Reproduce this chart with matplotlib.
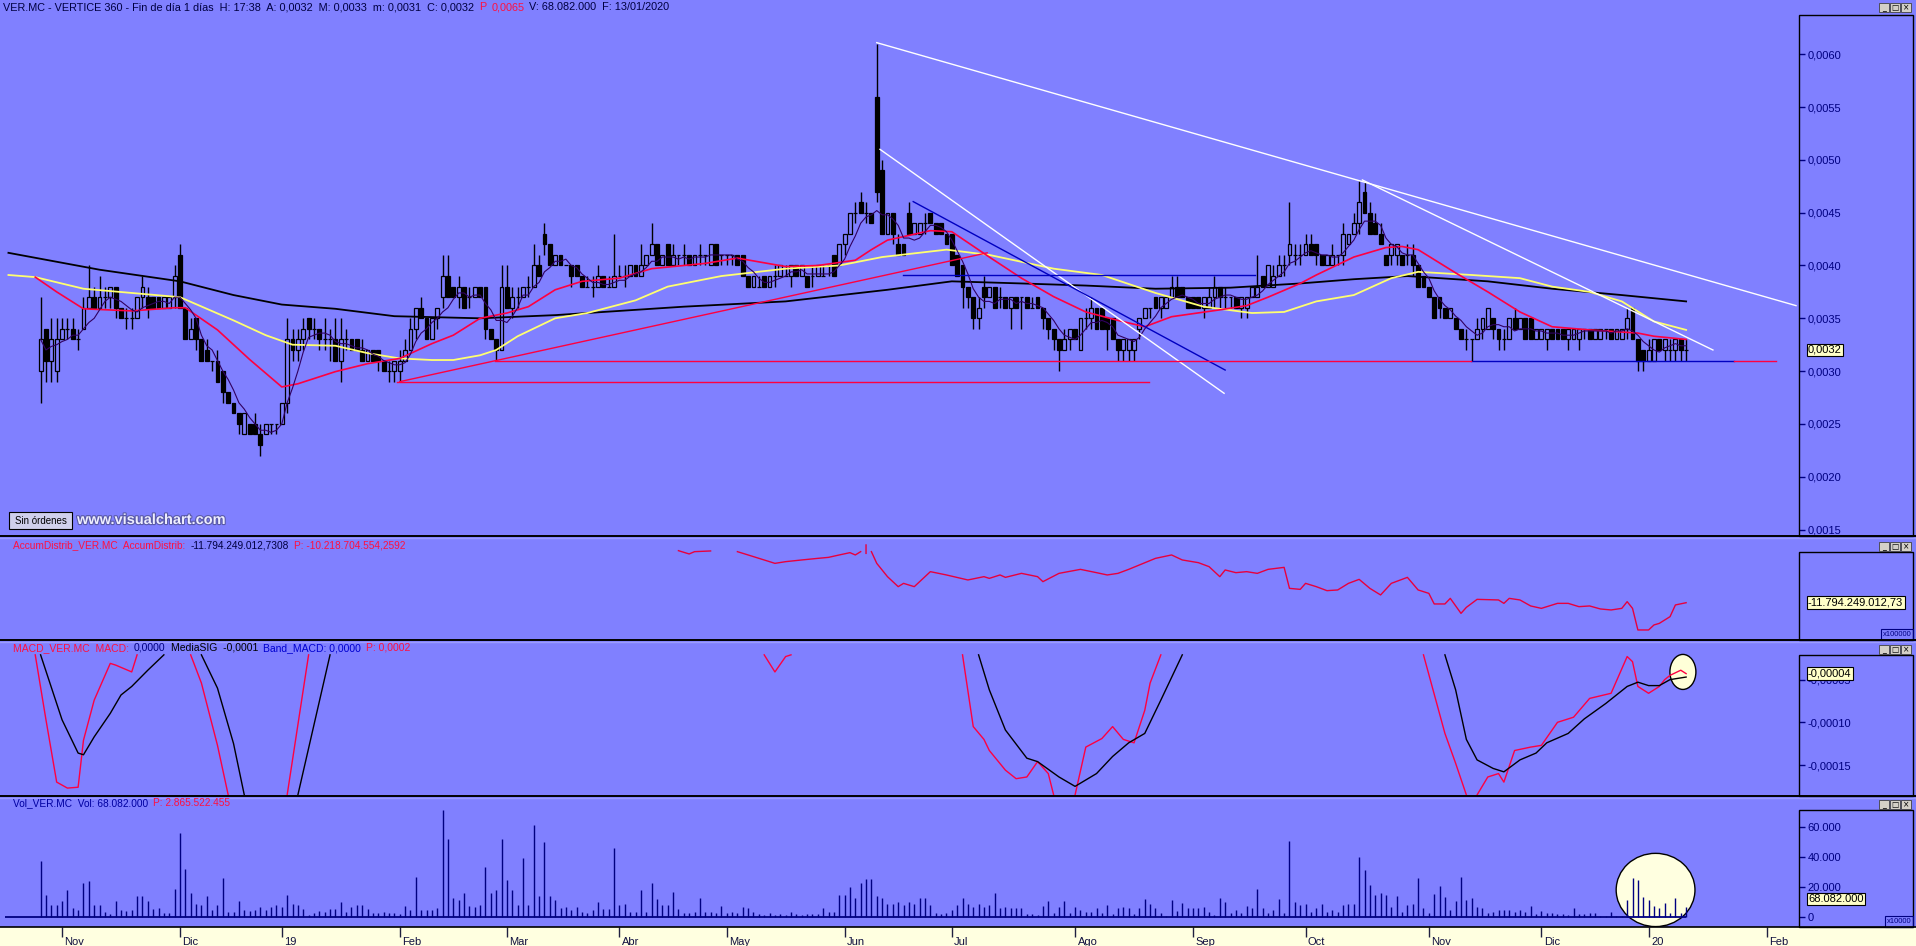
import numpy as np
import pandas as pd
import matplotlib
matplotlib.use("Agg")
import matplotlib.pyplot as plt
from matplotlib.patches import Rectangle, Ellipse
from matplotlib.lines import Line2D
import matplotlib.transforms as mtransforms
import matplotlib.patheffects as pe

plt.rcParams['font.family'] = ['Liberation Sans', 'DejaVu Sans']

# ---------------- data (prices in 0.0001 units, volume in millions) ----------------
first_day = "2018-10-26"
holidays = ["2018-12-25", "2018-12-26", "2019-01-01", "2019-04-19", "2019-04-22",
            "2019-05-01", "2019-12-25", "2019-12-26", "2020-01-01"]

opn = [30,34,31,30,33,34,34,33,34,36, 37,36,37,37,38,36,35,35,35,37, 37,37,37,36,36,37,41,36,33,35,
       33,32,31,31,30,28,27,26,24,25, 25,24,24,25,25,25,27,33,32,33, 35,34,34,33,33,33,31,33,33,33,
       32,31,32,32,31,30,30,30,31,32, 34,36,35,33,35,37,39,38,37,38, 37,37,38,38,34,33,32,38,36,37,
       37,38,38,40,43,42,40,41,40,40, 40,39,38,38,38,39,38,38,39,39, 39,40,39,40,41,42,40,42,40,41,
       41,41,40,41,41,40,42,41,41,41, 41,41,39,38,38,39,38,39,39,39, 39,40,39,39,39,39,39,40,41,40,
       42,43,45,46,45,45,56,49,43,45, 42,42,45,43,43,44,45,44,44,43, 43,41,40,38,37,35,38,37,38,37,
       37,36,37,37,37,36,37,36,35,34, 33,32,33,34,32,35,35,36,36,35, 35,33,32,32,32,34,35,36,37,36,
       36,37,38,38,37,37,37,36,36,37, 38,37,37,37,36,36,37,37,39,38, 38,39,40,41,41,41,41,42,42,41,
       40,40,41,41,42,43,44,47,45,44, 43,41,41,41,41,41,41,40,39,38, 37,37,36,35,35,34,33,33,33,34,
       34,35,34,33,33,35,34,35,35,33, 33,33,34,34,34,33,33,33,34,34, 33,33,34,34,33,33,34,36,33,32,
       31,31,33,32,32,32,33,32]
high = [37,34,35,35,35,35,35,34,37,40, 38,39,38,38,38,36,36,36,37,39, 38,37,37,37,37,40,42,36,35,35,
        33,33,31,32,30,28,27,26,26,25, 26,25,25,25,25,27,35,34,34,35, 35,35,34,35,34,35,35,34,33,33,
        33,32,32,32,31,31,31,32,33,35, 36,37,35,35,36,41,41,38,39,38, 38,38,38,38,34,33,40,40,38,38,
        38,39,42,41,44,42,41,41,40,40, 40,39,39,39,40,39,39,43,40,40, 40,40,42,41,44,42,41,42,42,41,
        42,41,41,42,41,42,42,41,41,41, 41,41,39,39,39,39,39,40,40,40, 40,40,40,39,40,40,40,40,41,42,
        43,45,46,47,46,45,61,50,45,45, 43,42,46,44,44,45,45,44,44,43, 43,41,40,38,37,37,39,38,38,38,
        37,37,37,37,37,37,37,36,35,34, 33,34,34,34,35,36,37,36,36,35, 35,33,33,33,33,35,36,36,37,37,
        37,39,39,38,37,37,37,37,38,39, 38,38,37,37,37,37,38,41,39,40, 40,41,41,46,42,42,43,43,42,41,
        41,42,41,44,43,45,48,48,46,45, 44,41,42,42,41,42,42,40,39,38, 37,37,36,36,35,34,34,33,35,35,
        36,35,34,34,35,36,35,35,35,34, 34,34,34,34,34,34,34,34,34,34, 34,34,34,34,34,34,36,36,33,32,
        33,33,33,33,33,33,33,33]
low = [27,29,29,29,33,33,33,32,34,36, 36,36,36,36,35,35,34,34,35,36, 35,36,36,36,36,36,36,33,33,32,
       31,31,30,29,27,27,26,24,24,24, 24,22,24,24,24,25,26,31,31,32, 33,33,32,32,31,31,29,32,32,32,
       31,31,31,30,30,29,29,29,31,32, 33,35,33,33,34,36,37,37,36,36, 36,37,37,33,33,31,32,36,35,36,
       37,37,38,39,41,40,40,40,40,38, 39,38,38,37,38,38,38,38,39,38, 39,39,39,40,41,40,40,40,40,40,
       40,40,40,40,40,40,40,40,40,40, 40,39,38,38,38,38,38,38,39,39, 38,39,39,38,38,39,39,39,39,40,
       41,43,44,45,44,44,46,43,43,42, 41,41,43,43,43,43,44,43,43,42, 40,39,36,36,34,34,36,37,36,36,
       36,34,36,34,36,36,36,34,33,32, 30,32,32,33,32,34,34,34,34,32, 33,31,31,31,31,33,35,35,36,35,
       36,37,37,37,36,36,36,35,36,36, 36,36,36,36,35,35,37,37,38,38, 38,39,39,40,40,40,41,41,40,40,
       40,40,40,40,42,43,43,45,43,43, 42,40,40,40,40,40,39,38,38,37, 35,35,35,35,34,33,32,31,33,33,
       34,33,32,32,33,34,34,33,33,33, 33,32,33,33,33,32,33,32,33,33, 33,33,33,33,33,33,33,33,30,30,
       31,31,32,31,31,31,31,31]
close = [33,31,33,33,34,34,33,33,36,37, 36,37,37,38,36,35,35,35,37,38, 36,36,36,37,37,39,36,33,34,33,
         31,31,31,29,28,27,26,25,26,24, 24,23,25,25,25,27,33,32,33,34, 34,34,33,33,33,31,33,33,32,32,
         31,32,31,31,30,30,31,31,32,34, 36,35,33,35,36,39,37,37,38,36, 37,38,37,34,33,32,38,36,37,37,
         38,38,40,39,42,40,41,40,40,39, 39,38,38,38,39,38,38,39,39,39, 40,39,40,41,42,40,41,40,41,41,
         41,40,41,41,41,42,40,41,41,41, 40,39,38,39,38,38,39,39,40,39, 40,39,40,38,39,40,39,40,39,42,
         43,45,45,45,45,44,47,43,45,43, 41,41,43,44,44,44,44,43,43,42, 40,39,38,37,35,36,37,38,36,37,
         36,37,36,37,36,36,36,35,34,33, 32,33,34,33,35,35,36,34,34,34, 33,32,33,33,33,35,36,36,36,37,
         37,38,37,37,36,36,36,37,37,38, 37,37,37,36,37,37,38,38,38,40, 39,40,40,42,41,41,42,41,41,40,
         41,41,41,43,43,44,46,45,43,43, 42,40,42,42,40,41,40,38,38,37, 35,36,35,36,34,33,33,33,34,35,
         36,34,33,33,35,34,35,33,33,34, 34,34,33,33,33,34,34,34,34,33, 34,34,34,33,34,34,35,33,31,31,
         32,33,32,33,32,33,32,32]
volume_m = [370,150,80,80,110,180,60,50,230,240, 80,80,35,20,110,50,45,50,140,140,
            110,55,60,27,30,185,560,320,160,90, 80,140,50,80,260,35,35,110,50,45,
            50,65,50,65,80,70,150,90,80,55, 15,27,45,35,55,55,100,35,70,80,
            80,55,30,27,35,30,30,20,75,50, 265,50,50,50,60,710,520,126,115,160,
            75,70,80,335,160,180,520,250,180,80, 390,80,610,140,500,140,115,60,65,50,
            65,35,27,50,100,55,55,460,80,90, 35,35,180,35,225,120,80,80,170,55,
            27,27,35,126,35,35,30,75,30,35, 27,70,60,35,20,15,30,15,20,15,
            35,20,15,20,20,20,60,35,35,150, 150,200,130,227,256,256,140,126,90,90,
            100,80,100,90,126,126,80,30,20,30, 50,80,130,90,70,90,70,80,160,60,
            70,60,60,60,20,20,15,75,108,27, 70,108,27,70,50,35,35,60,27,80,
            20,60,70,60,20,60,120,90,60,27, 10,113,40,95,60,60,60,65,35,15,
            126,100,30,50,30,75,60,185,60,27, 50,120,30,502,100,80,90,35,60,85,
            35,50,35,80,85,90,402,310,215,150, 164,150,70,140,35,80,90,260,60,27,
            154,207,137,50,110,270,115,130,65,60, 27,35,50,50,50,35,50,35,75,20,
            40,30,27,20,20,15,60,20,20,30, 30,10,10,35,10,10,115,263,247,137,
            115,75,60,95,27,126,27,68.082]

# moving averages (trading-day index, price in 0.0001)
ma_black_idx = [-6, 11, 26, 36, 45, 55, 66, 82, 96, 120, 139, 158, 170, 183, 195, 208, 222, 235, 245, 255, 270, 282, 295, 307]
ma_black_val = [41.2, 39.6, 38.5, 37.2, 36.3, 35.9, 35.2, 35.0, 35.3, 36.1, 36.6, 37.7, 38.5, 38.3, 38.1, 37.8, 37.9, 38.3, 38.7, 39.0, 38.5, 37.8, 37.2, 36.6]
ma_yellow_idx = [-6, -1, 8, 17, 26, 31, 36, 42, 47, 55, 61, 67, 73, 77, 82, 85, 89, 96, 102, 111, 117, 127, 139, 149, 157, 169, 177,
                 189, 198, 208, 217, 226, 232, 238, 245, 252, 257, 267, 276, 282, 289, 295, 301, 307]
ma_yellow_val = [39.1, 38.9, 37.8, 37.4, 37.0, 35.9, 34.8, 33.4, 32.5, 32.4, 31.7, 31.2, 31.05, 31.05, 31.5, 32.0, 33.3, 35.0, 35.5, 36.7,
                 38.0, 39.0, 39.7, 40.0, 40.8, 41.5, 41.0, 39.7, 39.1, 37.4, 36.1, 35.5, 35.6, 36.6, 37.2, 38.8, 39.4, 39.1, 38.8, 38.0,
                 37.5, 36.6, 34.7, 33.9]
ma_red_idx = [-1, 3, 8, 17, 25, 27, 33, 39, 45, 48, 55, 61, 67, 73, 77, 82, 87, 91, 96, 101, 108, 114, 124, 130, 139, 145, 152, 155,
              158, 166, 170, 177, 183, 189, 195, 201, 206, 211, 220, 225, 229, 235, 238, 245, 251, 254, 257, 264, 270, 276, 282, 289,
              295, 298, 301, 307]
ma_red_val = [38.9, 37.5, 35.9, 35.7, 36.0, 36.0, 33.9, 31.1, 28.5, 28.8, 29.95, 30.7, 31.2, 32.6, 33.4, 35.0, 35.5, 36.1, 37.7, 38.5,
              38.8, 39.7, 40.2, 40.7, 39.9, 40.0, 40.5, 41.5, 42.4, 43.3, 43.2, 40.8, 38.8, 37.05, 35.6, 34.8, 34.2, 35.15, 35.8, 36.2,
              37.0, 38.3, 39.1, 40.8, 41.7, 41.8, 41.5, 39.3, 37.5, 35.6, 34.2, 33.9, 33.7, 33.6, 33.3, 33.0]

# drawn trend lines: (start idx, start price, end idx, end price)
white_lines = [(156.0, 61.1, 327.5, 36.2), (156.6, 51.0, 220.8, 27.9), (246.6, 48.1, 312.0, 32.0)]
blue_lines = [(162.8, 46.05, 221.0, 30.1), (160.9, 39.1, 226.6, 39.1), (266.9, 31.0, 315.9, 31.0)]
red_lines = [(67.0, 29.0, 176.6, 41.2), (84.8, 31.0, 266.9, 31.0), (315.9, 31.0, 323.7, 31.0), (66.5, 29.0, 206.8, 29.0)]

nan = np.nan
# AccumDistrib (billions)
acc_idx = [119, 121, 122, 125, nan, 130, 132, 136, 137, 139, 142, 145, 147, 149, 151, 152, 153, nan, 154, 154, nan,
           155, 156, 158, 160, 161, 163, 164, 166, 169, 173, 176, 177, 179, 180, 183, 186, 187, 190, 194, 197, 199, 201, 203,
           208, 211, 213, 216, 218, 220, 221, 223, 225, 227, 229, 232, 233, 235, 236, 238, 240, 242, 244, 246, 248, 250, 252,
           255, 257, 259, 260, 262, 263, 265, 266, 268, 272, 273, 274, 276, 278, 280, 283, 285, 287, 289, 291, 293, 295, 296,
           297, 298, 300, 301, 302, 304, 305, 307]
acc_val = [-6.59, -6.92, -6.69, -6.62, nan, -6.69, -7.02, -7.69, -7.86, -7.69, -7.52, -7.36, -7.26, -7.02, -6.79, -7.02, -6.69,
           nan, -6.02, -6.86, nan,
           -6.69, -7.86, -9.19, -10.19, -9.86, -10.19, -9.69, -8.69, -9.02, -9.52, -9.19, -9.36, -9.02, -9.26, -8.86, -9.19, -9.69,
           -8.86, -8.46, -8.79, -9.02, -8.86, -8.46, -7.36, -7.02, -7.52, -7.79, -8.19, -9.19, -8.52, -8.79, -8.69, -8.86, -8.46,
           -8.26, -10.36, -10.46, -9.86, -10.19, -10.59, -10.52, -9.86, -9.46, -10.36, -11.02, -9.86, -9.26, -10.52, -10.86, -11.92,
           -11.92, -11.36, -12.86, -12.26, -11.46, -11.52, -11.86, -11.36, -11.52, -12.12, -12.36, -11.86, -11.86, -12.19, -12.12,
           -12.42, -12.52, -12.36, -11.69, -12.36, -14.52, -14.52, -14.02, -13.86, -13.19, -12.02, -11.794]

# MACD (1e-5 units), only the part inside the visible band
macd_idx = [-1, 1, 3, 5, 7, 8, 10, 13, 14, 17, 18, nan, 28, 30, 33, 35, nan, 46, 50, nan, 135, 137, 139, 140, nan,
            172, 174, 176, 177, 180, 182, 184, 186, 188, 189, nan, 193, 195, 198, 200, 202, 204, 206, 207, 209, nan,
            258, 262, 264, 266, nan, 268, 270, 272, 273, 275, 278, 280, 283, 286, 289, 293, 296, 297, 298, 300, 302, 303,
            304, 306, 307]
macd_val = [-2.1, -9.7, -17.0, -17.7, -17.6, -12.1, -7.4, -3.1, -3.3, -4.1, -2.1, nan, -2.1, -5.4, -12.7, -18.5, nan,
            -18.5, -2.1, nan, -2.1, -4.1, -2.3, -2.1, nan,
            -2.1, -10.5, -12.0, -13.3, -15.6, -16.6, -16.4, -14.6, -16.0, -18.5, nan,
            -18.5, -12.9, -11.9, -10.5, -12.0, -12.4, -8.6, -5.4, -2.1, nan,
            -2.1, -11.3, -14.8, -18.5, nan,
            -18.5, -16.4, -16.0, -17.0, -13.3, -12.9, -12.7, -10.0, -9.4, -7.2, -6.6, -2.3, -2.9, -5.8, -6.6, -5.8, -5.0,
            -4.5, -3.9, -4.3]
sig_idx = [0, 4, 7, 8, 10, 13, 15, 17, 20, 23, nan, 30, 33, 36, 38, nan, 48, 54, nan,
           175, 177, 180, 184, 186, 190, 193, 197, 200, 203, 206, 209, 213, nan,
           262, 264, 266, 268, 271, 273, 276, 279, 281, 285, 288, 292, 296, 298, 300, 302, 304, 307]
sig_val = [-2.1, -9.7, -13.6, -13.8, -11.7, -8.95, -6.8, -5.8, -3.9, -2.1, nan, -2.1, -6.0, -12.5, -18.5, nan, -18.5, -2.1, nan,
           -2.1, -6.2, -10.9, -14.2, -14.6, -16.4, -17.5, -16.0, -14.0, -12.4, -11.3, -7.4, -2.1, nan,
           -2.1, -6.2, -12.0, -14.4, -15.4, -15.8, -14.4, -13.6, -12.4, -11.3, -9.6, -7.8, -5.8, -5.3, -5.7, -5.7, -5.0, -4.7]

month_names = {2: 'Feb', 3: 'Mar', 4: 'Abr', 5: 'May', 6: 'Jun', 7: 'Jul', 8: 'Ago',
               9: 'Sep', 10: 'Oct', 11: 'Nov', 12: 'Dic'}

# ---------------- layout ----------------
W, H = 1916, 946
BG = '#8080ff'
NAVY = '#000080'
RED = '#ff0040'
TXTRED = '#ff1040'
DARK = '#000040'
XL = (-40.6 / 5.36, (1799 - 40.6) / 5.36)

fig = plt.figure(figsize=(W / 100, H / 100), dpi=100)
fig.patch.set_facecolor(BG)


def px_rect(x0, y0, x1, y1):
    return [x0 / W, 1 - y1 / H, (x1 - x0) / W, (y1 - y0) / H]


def panel(y0, y1):
    a = fig.add_axes(px_rect(0, y0, 1799, y1))
    a.set_facecolor('none')
    for s in a.spines.values():
        s.set_visible(False)
    a.set_xlim(*XL)
    a.set_xticks([])
    a.yaxis.tick_right()
    a.tick_params(axis='y', direction='out', length=4, width=1, colors=NAVY, labelsize=8, pad=2)
    return a


def tag(a, y, text, size=8, dy=0):
    tr = mtransforms.blended_transform_factory(a.transAxes, a.transData)
    tr = mtransforms.offset_copy(tr, fig=fig, x=9, y=dy, units='dots')
    a.text(1.0, y, text, transform=tr, ha='left', va='center', fontsize=size, color='black', zorder=20,
           clip_on=False, bbox=dict(boxstyle='square,pad=0.12', fc='#ffffc8', ec='black', lw=0.8))


def label_row(x_px, y_px, parts, size=7.5):
    r = fig.canvas.get_renderer()
    x = x_px
    for s, col in parts:
        t = fig.text(x / W, 1 - y_px / H, s, color=col, fontsize=size, ha='left', va='center')
        x += t.get_window_extent(r).width + 5


def hline_px(y, x0=0, x1=W, color='black', lw=1.2):
    fig.add_artist(Line2D([x0 / W, x1 / W], [1 - y / H] * 2, color=color, lw=lw, transform=fig.transFigure))


def box_px(x0, y0, x1, y1, **kw):
    fig.add_artist(Rectangle((x0 / W, 1 - y1 / H), (x1 - x0) / W, (y1 - y0) / H, transform=fig.transFigure, **kw))


def buttons(y):
    for k, g in enumerate(['_', '□', '×']):
        x0 = 1879 + k * 11
        box_px(x0, y, x0 + 10, y + 9, fc='#d4d0c8', ec='#404040', lw=0.6)
        fig.text((x0 + 5) / W, 1 - (y + 4.5) / H, g, fontsize=5.5, ha='center', va='center', color='black',
                 family='DejaVu Sans')


n = len(close)
idx = np.arange(n)
o = np.array(opn) * 1e-4
c = np.array(close) * 1e-4
h = np.maximum(np.array(high) * 1e-4, np.maximum(o, c))
l = np.minimum(np.array(low) * 1e-4, np.minimum(o, c))

days = pd.bdate_range(first_day, "2020-02-28")
days = days[~days.isin(pd.to_datetime(holidays))]

# ---------------- main price panel ----------------
ax = panel(15, 535)
ax.set_ylim(14.48e-4, 63.72e-4)
yt = np.arange(15, 61, 5) * 1e-4
ax.set_yticks(yt)
ax.set_yticklabels([f"{v:.4f}".replace('.', ',') for v in yt])

ax.vlines(idx, l, h, color='black', lw=1, zorder=2)
fill = np.where(c > o, BG, 'black')
ax.bar(idx, np.abs(c - o), bottom=np.minimum(o, c), width=0.72, color=fill, edgecolor='black',
       linewidth=0.9, zorder=3)

ax.plot(ma_black_idx, np.array(ma_black_val) * 1e-4, color='black', lw=1.3, zorder=4)
ax.plot(ma_yellow_idx, np.array(ma_yellow_val) * 1e-4, color='#ffff70', lw=1.3, zorder=4)
ax.plot(ma_red_idx, np.array(ma_red_val) * 1e-4, color=RED, lw=1.2, zorder=4)
short_ma = pd.Series(close).rolling(5, min_periods=1).mean() * 1e-4
ax.plot(idx, short_ma, color='#300060', lw=0.8, zorder=4)

for lines, col in [(white_lines, 'white'), (blue_lines, '#0000c0'), (red_lines, RED)]:
    for x0, y0, x1, y1 in lines:
        ax.plot([x0, x1], [y0 * 1e-4, y1 * 1e-4], color=col, lw=1.0, zorder=5)

tag(ax, c[-1], f"{c[-1]:.4f}".replace('.', ','))

# ---------------- AccumDistrib ----------------
ax_a = panel(541, 638)
ax_a.set_ylim(-15.324, -5.624)
ax_a.set_yticks([])
ax_a.plot(acc_idx, acc_val, color='#e8003c', lw=1.0)
tag(ax_a, acc_val[-1], "-11.794.249.012,73", size=8)

# ---------------- MACD ----------------
ax_m = panel(644, 795)
ax_m.set_ylim(-18.51, -0.83)
ax_m.set_yticks([-15, -10, -5])
ax_m.set_yticklabels(['-0,00015', '-0,00010', '-0,00005'])
ax_m.add_patch(Ellipse((306.4, -4.1), 4.85, 4.1, fc='#ffffd8', ec='black', lw=1, zorder=1))
ax_m.plot(macd_idx, macd_val, color=RED, lw=1.0, zorder=3)
ax_m.plot(sig_idx, sig_val, color='black', lw=1.0, zorder=3)
tag(ax_m, macd_val[-1], "-0,00004", size=8)

# ---------------- Volume ----------------
ax_v = panel(799, 924)
vol = np.array(volume_m) * 100  # units of 10.000 shares
ax_v.set_ylim(-4437, 78344)
vt = [0, 20000, 40000, 60000]
ax_v.set_yticks(vt)
ax_v.set_yticklabels([f"{v:,}".replace(',', '.') for v in vt])
ax_v.add_patch(Ellipse((301.3, 18100), 14.7, 48500, fc='#ffffe0', ec='black', lw=1, zorder=1, clip_on=False))
ax_v.vlines(idx, 0, vol, color=NAVY, lw=1, zorder=3)
ax_v.hlines(0, -6.6, n - 1, color=NAVY, lw=1.3, zorder=3)
tag(ax_v, vol[-1], "68.082.000", size=8, dy=8)

# ---------------- date strip ----------------
ax_x = fig.add_axes(px_rect(0, 927, W, 946))
ax_x.set_facecolor('#ffffe0')
for s in ax_x.spines.values():
    s.set_visible(False)
ax_x.set_xlim(XL[0], (W - 40.6) / 5.36)
ax_x.set_ylim(0, 1)
ax_x.set_xticks([])
ax_x.set_yticks([])
dser = pd.Series(days)
for (yy, mm), grp in dser.groupby([dser.dt.year, dser.dt.month]):
    first = grp.index[0]
    if grp.iloc[0].day > 5:
        continue
    lab = str(yy)[2:] if mm == 1 else month_names[mm]
    ax_x.vlines(first, 0.45, 1, color='#202040', lw=1)
    ax_x.text(first + 0.45, 0.22, lab, fontsize=8, color='#101040', ha='left', va='center')

# ---------------- frames, separators, headers ----------------
for y in (536, 640, 796):
    hline_px(y, lw=1.4)
    hline_px(y + 2, color='#9c9cff', lw=1)
hline_px(927, lw=1.2)

box_px(1799, 15, 1913, 536, fill=False, ec='black', lw=1)
box_px(1799, 552, 1913, 640, fill=False, ec='black', lw=1)
box_px(1799, 655, 1913, 796, fill=False, ec='black', lw=1)
box_px(1799, 810, 1913, 927, fill=False, ec='black', lw=1)
for y in (3, 542, 645, 800):
    buttons(y)

for (x0, y0, x1, y1, s) in [(1881, 629, 1913, 640, 'x100000'), (1885, 916, 1913, 927, 'x10000')]:
    box_px(x0, y0, x1, y1, fill=False, ec=NAVY, lw=0.8)
    fig.text((x0 + x1) / 2 / W, 1 - (y0 + y1) / 2 / H, s, fontsize=5.5, color=NAVY, ha='center', va='center')

label_row(3, 7, [("VER.MC - VERTICE 360 - Fin de día 1 días  H: 17:38  A: 0,0032  M: 0,0033  m: 0,0031  C: 0,0032", DARK),
                 ("P", TXTRED), ("0,0065", TXTRED), ("V: 68.082.000  F: 13/01/2020", DARK)], size=7.8)
label_row(13, 545, [("AccumDistrib_VER.MC  AccumDistrib:", TXTRED), ("-11.794.249.012,7308", DARK),
                    ("P: -10.218.704.554,2592", TXTRED)], size=7.3)
label_row(13, 648, [("MACD_VER.MC  MACD:", TXTRED), ("0,0000", NAVY), ("MediaSIG  -0,0001", 'black'),
                    ("Band_MACD: 0,0000", '#0000d0'), ("P: 0,0002", TXTRED)], size=7.5)
label_row(13, 803, [("Vol_VER.MC  Vol: 68.082.000", '#0000a0'), ("P: 2.865.522.455", TXTRED)], size=7.3)

# "Sin órdenes" button and watermark
box_px(9, 512, 72, 529, fc='#d0d0ec', ec='black', lw=0.8)
fig.text(40.5 / W, 1 - 520.5 / H, "Sin órdenes", fontsize=7, ha='center', va='center', color='black')
fig.text(77 / W, 1 - 520 / H, "www.visualchart.com", fontsize=10.5, fontweight='bold', color='#eeeeff',
         ha='left', va='center', path_effects=[pe.withStroke(linewidth=1.6, foreground='#5a5aa8')])

fig.savefig("out.png", dpi=100, facecolor=BG)
